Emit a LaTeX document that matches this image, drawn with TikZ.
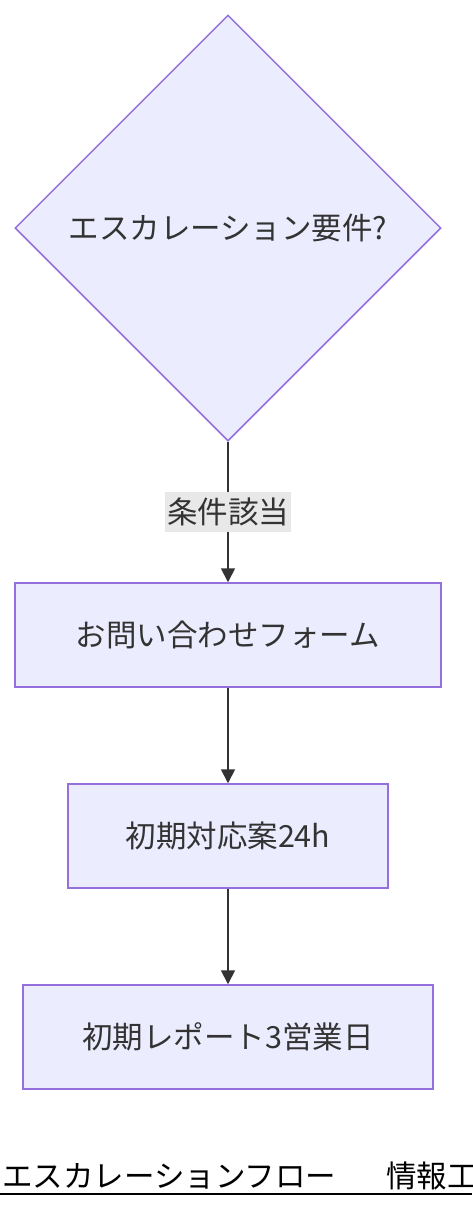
\documentclass[tikz,border=0pt]{standalone}
\usepackage{fontspec}
\usepackage{tikz}
\usetikzlibrary{shapes.geometric,arrows.meta}
\newfontfamily\jpfont{Noto Sans CJK JP}

\definecolor{nodefill}{HTML}{ECECFF}
\definecolor{nodeline}{HTML}{9370DB}
\definecolor{inkgray}{HTML}{333333}
\definecolor{labelbg}{HTML}{E8E8E8}

\tikzset{
  jptext/.style={font=\jpfont\fontsize{30.5}{36}\selectfont, text=inkgray},
  stepbox/.style={jptext, draw=nodeline, fill=nodefill, line width=1.5pt,
    minimum height=104pt, inner sep=0pt},
  flow/.style={draw=inkgray, line width=1.8pt, -{Triangle[length=14pt,width=14pt]}},
}

\begin{document}
\begin{tikzpicture}[x=1pt,y=-1pt]
\useasboundingbox (0,0) rectangle (472,1208);
\clip (0,0) rectangle (472,1208);

\node[jptext, diamond, draw=nodeline, fill=nodefill, line width=1.5pt,
  inner sep=0pt, minimum width=426pt, minimum height=426pt] (esc) at (228,228) {エスカレーション要件?};

\node[stepbox, minimum width=426pt] (form) at (228,635) {お問い合わせフォーム};
\node[stepbox, minimum width=320pt] (first) at (228,836) {初期対応案24h};
\node[stepbox, minimum width=410pt] (report) at (228,1037) {初期レポート3営業日};

\draw[flow] (esc.south) -- node[jptext, fill=labelbg, inner xsep=2pt, inner ysep=6pt] (cond) {条件該当} (form.north);
\draw[flow] (form.south) -- (first.north);
\draw[flow] (first.south) -- (report.north);

% title, cut at the right edge
\node[font=\jpfont\fontsize{30.5}{36}\selectfont, anchor=base west, inner sep=0pt]
  (title) at (2,1187) {エスカレーションフロー\hspace{50pt}情報工};
\draw[line width=2pt] (0,1194) -- (472,1194);
\end{tikzpicture}
\end{document}
